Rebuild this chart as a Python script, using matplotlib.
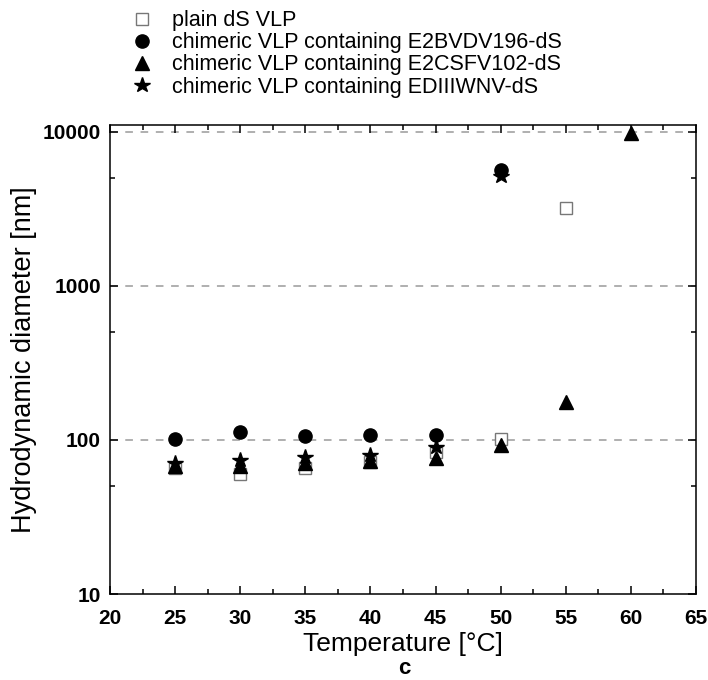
import matplotlib
matplotlib.use('Agg')
import matplotlib.pyplot as plt
from matplotlib.ticker import FixedLocator, MultipleLocator, FixedFormatter

plt.rcParams['font.family'] = ['Liberation Sans', 'DejaVu Sans']

# Data
temp_plain = [25, 30, 35, 40, 45, 50, 55]
plain_dS = [66, 60, 66, 72, 84, 101, 3200]

temp_bvdv = [25, 30, 35, 40, 45, 50]
e2bvdv = [101, 113, 106, 107, 108, 5700]

temp_csfv = [25, 30, 35, 40, 45, 50, 55, 60]
e2csfv = [68, 68, 71, 73, 76, 93, 177, 9900]

temp_wnv = [25, 30, 35, 40, 45, 50]
ediiiwnv = [71, 74, 78, 80, 90, 5200]

labels = ['plain dS VLP',
          'chimeric VLP containing E2BVDV196-dS',
          'chimeric VLP containing E2CSFV102-dS',
          'chimeric VLP containing EDIIIWNV-dS']

fig = plt.figure(figsize=(7.08, 6.8), dpi=100)
ax = fig.add_axes([110/708, 1-594/680, 586/708, 469/680])

# dashed grid at the decades
for y in [100, 1000, 10000]:
    ax.axhline(y, color='#9a9a9a', linestyle=(0, (5, 5)), linewidth=1.1, zorder=1)

h1, = ax.plot(temp_plain, plain_dS, 's', markersize=8, markerfacecolor='white',
              markeredgecolor='#777777', markeredgewidth=1.0, zorder=3)
h2, = ax.plot(temp_bvdv, e2bvdv, 'o', markersize=9.5, color='black', zorder=4)
h3, = ax.plot(temp_csfv, e2csfv, '^', markersize=10.5, color='black', zorder=5)
h4, = ax.plot(temp_wnv, ediiiwnv, '*', markersize=11.5, color='black', zorder=6)

ax.set_yscale('log')
ax.set_ylim(10, 11100)
ax.set_xlim(20, 65)

ax.yaxis.set_major_locator(FixedLocator([10, 100, 1000, 10000]))
ax.yaxis.set_major_formatter(FixedFormatter(['10', '100', '1000', '10000']))
ax.yaxis.set_minor_locator(FixedLocator([50, 500, 5000]))
ax.yaxis.set_minor_formatter(FixedFormatter(['', '', '']))
ax.xaxis.set_major_locator(MultipleLocator(5))
ax.xaxis.set_minor_locator(MultipleLocator(2.5))

ax.tick_params(which='both', direction='in', top=True, right=True, width=1.1)
ax.tick_params(which='major', length=6)
ax.tick_params(which='minor', length=3.5)
ax.tick_params(axis='y', which='major', pad=6.5)
ax.tick_params(axis='x', which='major', pad=11)
for lab in ax.get_xticklabels() + ax.get_yticklabels():
    lab.set_fontsize(15)
    lab.set_fontweight('bold')

for s in ax.spines.values():
    s.set_linewidth(1.1)

ax.set_xlabel('Temperature [°C]', fontsize=19, labelpad=3)
ax.set_ylabel('Hydrodynamic diameter [nm]', fontsize=19.5, labelpad=4)

# panel letter under the x label
fig.text(404/708, 1-674/680, 'c', fontsize=16, fontweight='bold', ha='center', va='baseline')

fig.legend([h1, h2, h3, h4], labels, loc='upper left', bbox_to_anchor=(125/708, 1-6/680),
           frameon=False, fontsize=15.5, labelspacing=0.05, handletextpad=0.8,
           borderaxespad=0.0, borderpad=0.2, handlelength=1.2)

fig.savefig('out.png', dpi=100)
